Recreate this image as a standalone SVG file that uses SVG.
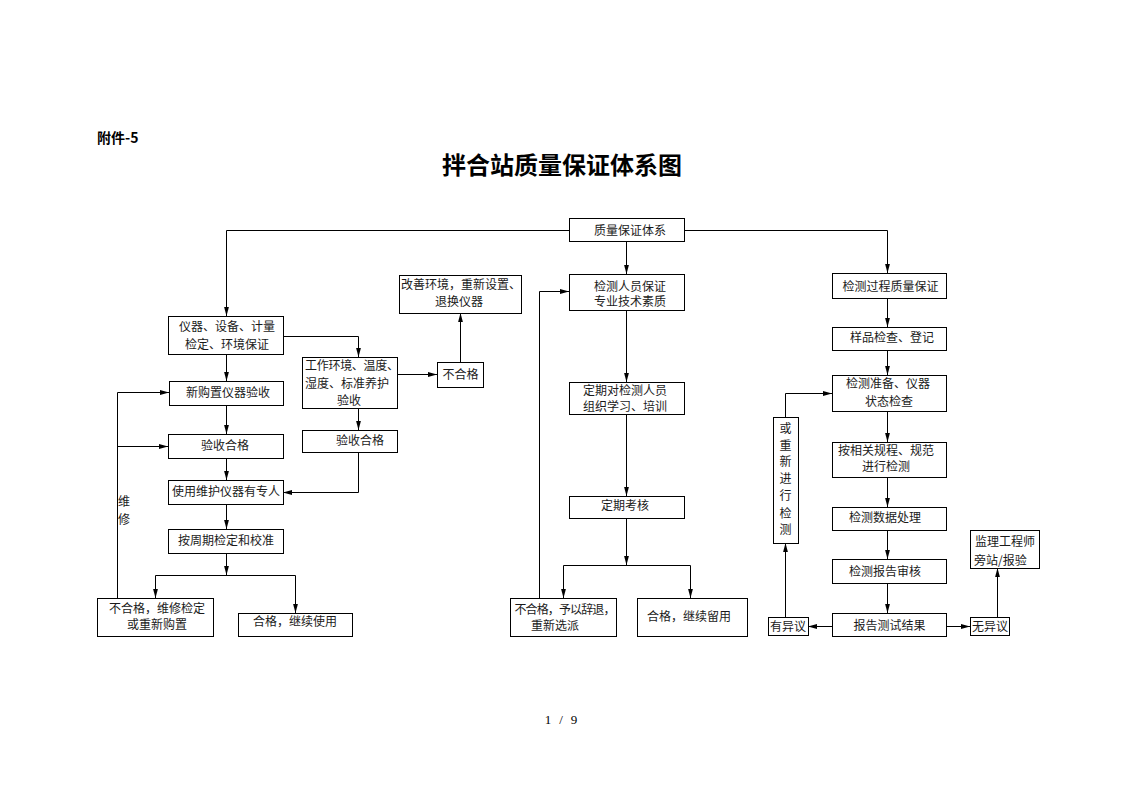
<svg xmlns="http://www.w3.org/2000/svg" width="1122" height="793" viewBox="0 0 1122 793">
<defs>
<marker id="ah" markerUnits="userSpaceOnUse" markerWidth="10" markerHeight="6" refX="9" refY="3" orient="auto">
<path d="M0,0.6 L9,3 L0,5.4 z" fill="#000"/>
</marker>
<style>
.b{fill:#fff;stroke:#000;stroke-width:1}
.t{font-family:"Noto Sans CJK SC","Liberation Sans",sans-serif;font-size:12px;fill:#1a1a1a;text-anchor:middle}
.l{text-anchor:start}
.c{fill:none;stroke:#000;stroke-width:1}
.a{marker-end:url(#ah)}
</style>
</defs>
<rect width="1122" height="793" fill="#fff"/>
<text x="97" y="143" font-family="'Noto Sans CJK SC','Liberation Sans',sans-serif" font-size="14" font-weight="bold" fill="#000">附件-5</text>
<text x="562" y="174" font-family="'Noto Sans CJK SC','Liberation Sans',sans-serif" font-size="24" font-weight="bold" fill="#000" text-anchor="middle">拌合站质量保证体系图</text>
<text y="724" font-family="'Liberation Serif',serif" font-size="13" fill="#000" text-anchor="middle"><tspan x="548">1</tspan><tspan x="561">/</tspan><tspan x="574">9</tspan></text>

<g id="connectors">
<path class="c a" d="M569.5,230.5 H226.5 V316"/>
<path class="c a" d="M684.5,230.5 H887.5 V273"/>
<path class="c a" d="M626.5,242 V274"/>
<path class="c a" d="M626.5,310 V382"/>
<path class="c a" d="M626.5,414 V496"/>
<path class="c a" d="M626.5,518 V565"/>
<path class="c" d="M563.5,565.5 H690.5"/>
<path class="c a" d="M563.5,565.5 V598"/>
<path class="c a" d="M690.5,565.5 V598"/>
<path class="c a" d="M539.5,598 V291.5 H569"/>
<path class="c a" d="M226.5,354 V381"/>
<path class="c a" d="M226.5,406 V434"/>
<path class="c a" d="M226.5,458 V480"/>
<path class="c a" d="M226.5,504 V529"/>
<path class="c a" d="M226.5,553 V575"/>
<path class="c" d="M155.5,575.5 H295.5"/>
<path class="c a" d="M155.5,575.5 V598"/>
<path class="c a" d="M295.5,575.5 V613"/>
<path class="c a" d="M117.5,598 V392.5 H169"/>
<path class="c a" d="M117.5,446.5 H168"/>
<path class="c a" d="M283,336.5 H358.5 V357"/>
<path class="c a" d="M358.5,408 V430"/>
<path class="c a" d="M358.5,452 V492.5 H283"/>
<path class="c a" d="M397,374.5 H437"/>
<path class="c a" d="M460.5,362 V313"/>
<path class="c a" d="M887.5,298 V327"/>
<path class="c a" d="M887.5,350 V375"/>
<path class="c a" d="M887.5,411 V442"/>
<path class="c a" d="M887.5,477 V507"/>
<path class="c a" d="M887.5,530 V559"/>
<path class="c a" d="M887.5,583 V613"/>
<path class="c a" d="M832,626.5 H808"/>
<path class="c a" d="M946,626.5 H970"/>
<path class="c a" d="M785.5,617 V543"/>
<path class="c a" d="M785.5,417 V393.5 H832"/>
<path class="c a" d="M997.5,617 V568"/>
</g>

<g id="n-root"><rect class="b" x="569.5" y="218.5" width="115" height="23"/><text class="t" x="630" y="234.5">质量保证体系</text></g>

<g id="n-instr"><rect class="b" x="168.5" y="316.5" width="115" height="38"/><text class="t" x="227" y="331">仪器、设备、计量</text><text class="t" x="227" y="349">检定、环境保证</text></g>
<g id="n-newbuy"><rect class="b" x="169.5" y="381.5" width="114" height="24"/><text class="t" x="228" y="397">新购置仪器验收</text></g>
<g id="n-pass1"><rect class="b" x="168.5" y="434.5" width="115" height="24"/><text class="t" x="225" y="449.5">验收合格</text></g>
<g id="n-use"><rect class="b" x="168.5" y="480.5" width="115" height="24"/><text class="t" x="226" y="496">使用维护仪器有专人</text></g>
<g id="n-period"><rect class="b" x="168.5" y="529.5" width="115" height="24"/><text class="t" x="226" y="544.5">按周期检定和校准</text></g>
<g id="n-fail1"><rect class="b" x="97.5" y="598.5" width="116" height="38"/><text class="t" x="157" y="612.5">不合格，维修检定</text><text class="t" x="157" y="628.5">或重新购置</text></g>
<g id="n-ok1"><rect class="b" x="238.5" y="613.5" width="114" height="23"/><text class="t" x="295" y="626">合格，继续使用</text></g>
<g id="n-repair-label"><text class="t l" x="118" y="506">维</text><text class="t l" x="118" y="523.5">修</text></g>
<g id="n-env"><rect class="b" x="302.5" y="357.5" width="95" height="51"/><text class="t l" x="305" y="369.5" textLength="94">工作环境、温度、</text><text class="t l" x="305" y="387.5">湿度、标准养护</text><text class="t" x="349" y="405">验收</text></g>
<g id="n-pass2"><rect class="b" x="302.5" y="430.5" width="95" height="22"/><text class="t" x="360" y="445">验收合格</text></g>
<g id="n-fail2"><rect class="b" x="437.5" y="362.5" width="46" height="25"/><text class="t" x="460.5" y="379">不合格</text></g>
<g id="n-improve"><rect class="b" x="399.5" y="275.5" width="122" height="38"/><text class="t" x="461" y="288.5">改善环境，重新设置、</text><text class="t" x="459" y="305.5">退换仪器</text></g>

<g id="n-staff"><rect class="b" x="569.5" y="274.5" width="115" height="36"/><text class="t" x="630" y="290.5">检测人员保证</text><text class="t" x="630" y="306">专业技术素质</text></g>
<g id="n-train"><rect class="b" x="569.5" y="382.5" width="115" height="32"/><text class="t" x="625" y="394.5">定期对检测人员</text><text class="t" x="625" y="411">组织学习、培训</text></g>
<g id="n-exam"><rect class="b" x="569.5" y="496.5" width="115" height="22"/><text class="t" x="625" y="509.5">定期考核</text></g>
<g id="n-fail3"><rect class="b" x="510.5" y="598.5" width="106" height="38"/><text class="t" x="565" y="613.5" textLength="101">不合格，予以辞退，</text><text class="t" x="555" y="629.5">重新选派</text></g>
<g id="n-ok3"><rect class="b" x="637.5" y="598.5" width="110" height="38"/><text class="t" x="689" y="621">合格，继续留用</text></g>

<g id="n-process"><rect class="b" x="832.5" y="273.5" width="114" height="25"/><text class="t" x="890.5" y="290.5">检测过程质量保证</text></g>
<g id="n-sample"><rect class="b" x="832.5" y="327.5" width="114" height="23"/><text class="t" x="892" y="341.5">样品检查、登记</text></g>
<g id="n-prep"><rect class="b" x="832.5" y="375.5" width="114" height="36"/><text class="t" x="888" y="387.5">检测准备、仪器</text><text class="t" x="889" y="406">状态检查</text></g>
<g id="n-test"><rect class="b" x="832.5" y="442.5" width="114" height="35"/><text class="t" x="886" y="454.5">按相关规程、规范</text><text class="t" x="886" y="470.5">进行检测</text></g>
<g id="n-data"><rect class="b" x="832.5" y="507.5" width="114" height="23"/><text class="t" x="885" y="521.5">检测数据处理</text></g>
<g id="n-review"><rect class="b" x="832.5" y="559.5" width="114" height="24"/><text class="t" x="885" y="576">检测报告审核</text></g>
<g id="n-report"><rect class="b" x="832.5" y="613.5" width="114" height="23"/><text class="t" x="889.5" y="629.5">报告测试结果</text></g>
<g id="n-objection"><rect class="b" x="768.5" y="617.5" width="40" height="18"/><text class="t" x="788" y="630.5">有异议</text></g>
<g id="n-noobjection"><rect class="b" x="970.5" y="617.5" width="39" height="18"/><text class="t" x="990" y="630.5">无异议</text></g>
<g id="n-supervisor"><rect class="b" x="970.5" y="530.5" width="69" height="38"/><text class="t" x="1005" y="546">监理工程师</text><text class="t l" x="974" y="564.5">旁站/报验</text></g>
<g id="n-retest"><rect class="b" x="773.5" y="417.5" width="25" height="126"/><text class="t" x="785.5" y="432.5">或</text><text class="t" x="785.5" y="449.5">重</text><text class="t" x="785.5" y="466">新</text><text class="t" x="785.5" y="482.5">进</text><text class="t" x="785.5" y="500">行</text><text class="t" x="785.5" y="517.5">检</text><text class="t" x="785.5" y="533.5">测</text></g>
</svg>
